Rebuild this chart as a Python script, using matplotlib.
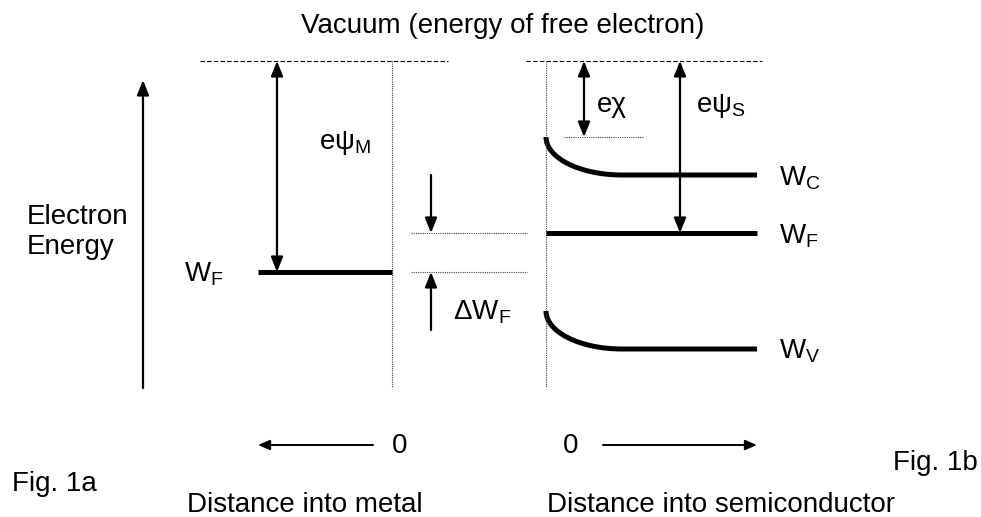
import matplotlib
matplotlib.use("Agg")
import matplotlib.pyplot as plt
from matplotlib.path import Path
from matplotlib.patches import PathPatch

plt.rcParams['font.family'] = ['Liberation Sans', 'DejaVu Sans']
plt.rcParams['mathtext.fontset'] = 'custom'
plt.rcParams['mathtext.rm'] = 'Liberation Sans'

# energy levels (screen units, top = 0)
vacuum_level = 61
metal_fermi = 272
semi_fermi = 233
cond_surface, cond_bulk = 137, 175
val_surface, val_bulk = 311, 349

# horizontal extents
metal_x = [258, 392]
semi_x = [546, 757]
bend_end_x = 622
vac_left_x = [200, 448]
vac_right_x = [526, 762]
bottom_y = 387

W, H = 981, 517
fig = plt.figure(figsize=(W / 100, H / 100), dpi=100)
ax = fig.add_axes([0, 0, 1, 1])
ax.set_xlim(0, W)
ax.set_ylim(H, 0)
ax.axis('off')

FS = 20


def arrow(x0, y0, x1, y1, style='-|>', hl=0.9, hw=0.36, lw=1.6):
    ax.annotate('', xy=(x1, y1), xytext=(x0, y0),
                arrowprops=dict(arrowstyle=f'{style},head_length={hl},head_width={hw}',
                                lw=lw, color='black', shrinkA=0, shrinkB=0))


def band(surface, bulk):
    k = 0.552
    dx = bend_end_x - semi_x[0]
    dy = bulk - surface
    verts = [(semi_x[0], surface), (semi_x[0], surface + k * dy),
             (bend_end_x - k * dx, bulk), (bend_end_x, bulk), (semi_x[1], bulk)]
    codes = [Path.MOVETO, Path.CURVE4, Path.CURVE4, Path.CURVE4, Path.LINETO]
    ax.add_patch(PathPatch(Path(verts, codes), fill=False, lw=3.6, color='black',
                           capstyle='butt'))


# vacuum level dashed lines
ax.plot(vac_left_x, [vacuum_level] * 2, color='black', lw=0.8, dashes=(4, 2))
ax.plot(vac_right_x, [vacuum_level] * 2, color='black', lw=0.8, dashes=(4, 2))

# interfaces (dotted)
ax.plot([metal_x[1]] * 2, [vacuum_level, bottom_y], color='#444444', lw=0.8, dashes=(1, 1))
ax.plot([semi_x[0]] * 2, [vacuum_level, bottom_y], color='#444444', lw=0.8, dashes=(1, 1))

# metal Fermi level
ax.plot(metal_x, [metal_fermi] * 2, color='black', lw=3.6, solid_capstyle='butt')
arrow(277, vacuum_level, 277, metal_fermi, style='<|-|>')

# delta W_F
ax.plot([411, 527], [semi_fermi] * 2, color='#444444', lw=0.8, dashes=(1, 1))
ax.plot([411, 527], [metal_fermi] * 2, color='#444444', lw=0.8, dashes=(1, 1))
arrow(431, 175, 431, semi_fermi)
arrow(431, 330, 431, metal_fermi)

# semiconductor
ax.plot(semi_x, [semi_fermi] * 2, color='black', lw=3.6, solid_capstyle='butt')
band(cond_surface, cond_bulk)
band(val_surface, val_bulk)
ax.plot([564, 643], [cond_surface] * 2, color='#444444', lw=0.8, dashes=(1, 1))
arrow(584, vacuum_level, 584, cond_surface, style='<|-|>')
arrow(680, vacuum_level, 680, semi_fermi, style='<|-|>')

# energy axis
arrow(143, 388, 143, 80)

# distance arrows
arrow(373, 445, 258, 445, hl=0.7, hw=0.3, lw=1.4)
arrow(603, 445, 757, 445, hl=0.7, hw=0.3, lw=1.4)

# texts
ax.text(503, 33, 'Vacuum (energy of free electron)', fontsize=FS, ha='center', va='baseline')
ax.text(27, 224, 'Electron', fontsize=FS, ha='left', va='baseline')
ax.text(27, 254, 'Energy', fontsize=FS, ha='left', va='baseline')
ax.text(184, 281, r'W$_\mathregular{F}$', fontsize=FS, ha='left', va='baseline')
ax.text(319, 149, r'eψ$_\mathregular{M}$', fontsize=FS, ha='left', va='baseline')
ax.text(597, 112, 'eχ', fontsize=FS, ha='left', va='baseline')
ax.text(696, 112, r'eψ$_\mathregular{S}$', fontsize=FS, ha='left', va='baseline')
ax.text(453, 319, r'ΔW$_\mathregular{F}$', fontsize=FS, ha='left', va='baseline')
ax.text(779, 185, r'W$_\mathregular{C}$', fontsize=FS, ha='left', va='baseline')
ax.text(779, 243, r'W$_\mathregular{F}$', fontsize=FS, ha='left', va='baseline')
ax.text(779, 358, r'W$_\mathregular{V}$', fontsize=FS, ha='left', va='baseline')
ax.text(392, 453, '0', fontsize=FS, ha='left', va='baseline')
ax.text(563, 453, '0', fontsize=FS, ha='left', va='baseline')
ax.text(12, 491, 'Fig. 1a', fontsize=FS, ha='left', va='baseline')
ax.text(893, 470, 'Fig. 1b', fontsize=FS, ha='left', va='baseline')
ax.text(305, 512, 'Distance into metal', fontsize=FS, ha='center', va='baseline')
ax.text(721, 512, 'Distance into semiconductor', fontsize=FS, ha='center', va='baseline')

fig.savefig('out.png', dpi=100)
